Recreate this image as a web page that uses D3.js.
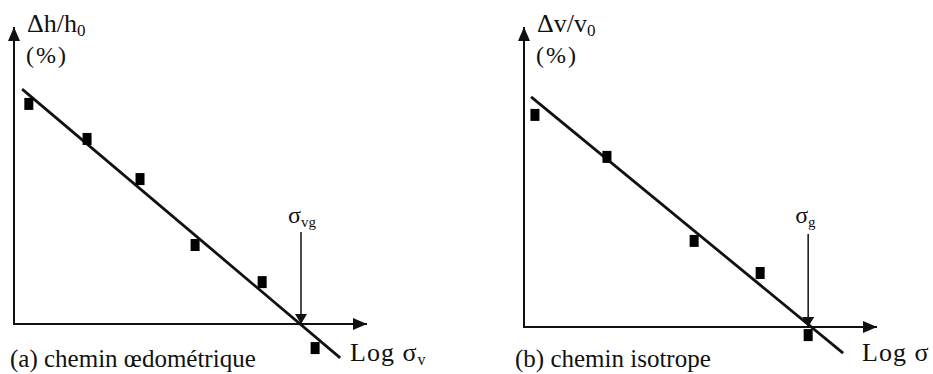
<!DOCTYPE html>
<html lang="fr">
<head>
  <meta charset="UTF-8">
  <title>Chemin oedometrique / isotrope</title>
  <script src="https://d3js.org/d3.v7.min.js"></script>
  <style>
    body { margin: 0; background: #fff; }
    svg text { font-family: "Liberation Serif", "DejaVu Serif", serif; fill: #111; }
  </style>
</head>
<body>
<div id="chart"></div>
<script>
const width = 933, height = 374;

// panel (a) : chemin oedometrique  (x = log sigma, y = dh/h0 %)
const aPointsX = [0.42, 2.07, 3.57, 5.13, 7.03, 8.53];
const aPointsY = [7.41, 6.23, 4.88, 2.66, 1.41, -0.81];
const aFitX = [0.23, 9.24];
const aFitY = [7.91, -1.14];
const aSigma = 8.13;

// panel (b) : chemin isotrope  (x = log sigma, y = dv/v0 %)
const bPointsX = [0.31, 2.35, 4.82, 6.69, 8.05];
const bPointsY = [7.07, 5.67, 2.87, 1.80, -0.27];
const bFitX = [0.20, 9.04];
const bFitY = [7.67, -0.87];
const bSigma = 8.05;

const svg = d3.select("#chart").append("svg")
  .attr("width", width)
  .attr("height", height)
  .attr("font-family", "'Liberation Serif', 'DejaVu Serif', serif");

const defs = svg.append("defs");
defs.append("marker")
  .attr("id", "head")
  .attr("viewBox", "0 0 14 12")
  .attr("refX", 14).attr("refY", 6)
  .attr("markerWidth", 14).attr("markerHeight", 12)
  .attr("markerUnits", "userSpaceOnUse")
  .attr("orient", "auto")
  .append("path").attr("d", "M0,0L14,6L0,12Z").attr("fill", "#111");
defs.append("marker")
  .attr("id", "head2")
  .attr("viewBox", "0 0 10 12")
  .attr("refX", 10).attr("refY", 6)
  .attr("markerWidth", 10).attr("markerHeight", 12)
  .attr("markerUnits", "userSpaceOnUse")
  .attr("orient", "auto")
  .append("path").attr("d", "M0,0L10,6L0,12Z").attr("fill", "#111");

function panel(opt) {
  const x = d3.scaleLinear().domain([0, 10]).range([opt.x0, opt.x1]);
  const y = d3.scaleLinear().domain([0, 10]).range([opt.y0, opt.y1]);
  const g = svg.append("g");

  // axes with arrows
  g.append("line")
    .attr("x1", x(0)).attr("y1", y(0) + 1)
    .attr("x2", x(0)).attr("y2", y(10))
    .attr("stroke", "#111").attr("stroke-width", 2)
    .attr("marker-end", "url(#head)");
  g.append("line")
    .attr("x1", x(0)).attr("y1", y(0))
    .attr("x2", x(10)).attr("y2", y(0))
    .attr("stroke", "#111").attr("stroke-width", 2)
    .attr("marker-end", "url(#head)");

  // fitted line
  const fit = d3.line().x(d => x(d[0])).y(d => y(d[1]));
  g.append("path")
    .datum(d3.zip(opt.fitX, opt.fitY))
    .attr("d", fit)
    .attr("fill", "none")
    .attr("stroke", "#111")
    .attr("stroke-width", 2.8);

  // measured points
  g.selectAll("rect.pt")
    .data(d3.zip(opt.px, opt.py))
    .join("rect")
    .attr("class", "pt")
    .attr("x", d => x(d[0]) - 4.5)
    .attr("y", d => y(d[1]) - 6)
    .attr("width", 9)
    .attr("height", 12)
    .attr("fill", "#000");

  // sigma marker arrow
  g.append("line")
    .attr("x1", x(opt.sigma)).attr("y1", y(3.1))
    .attr("x2", x(opt.sigma)).attr("y2", y(0))
    .attr("stroke", "#111").attr("stroke-width", 1.5)
    .attr("marker-end", "url(#head2)");

  const sl = g.append("text")
    .attr("x", x(opt.sigma) - 13)
    .attr("y", 223)
    .attr("font-size", 24);
  sl.append("tspan").text("σ");
  sl.append("tspan").attr("dy", 4).attr("font-size", 15).text(opt.sigmaSub);

  // y label
  const yl = g.append("text")
    .attr("x", x(0) + 13).attr("y", 32)
    .attr("font-size", 26);
  yl.append("tspan").text(opt.yName);
  yl.append("tspan").attr("dy", 4).attr("font-size", 17).text("0");
  g.append("text")
    .attr("x", x(0) + 12).attr("y", 63)
    .attr("font-size", 24)
    .attr("letter-spacing", 2)
    .text("(%)");

  // x label
  const xl = g.append("text")
    .attr("x", opt.xLabelX).attr("y", 361)
    .attr("font-size", 26)
    .attr("letter-spacing", 1);
  xl.append("tspan").text("Log σ");
  if (opt.xSub) xl.append("tspan").attr("dy", 4).attr("font-size", 16).text(opt.xSub);

  // caption
  g.append("text")
    .attr("x", opt.capX).attr("y", 367)
    .attr("font-size", 25)
    .text(opt.caption);
}

panel({
  x0: 14, x1: 367, y0: 324, y1: 27,
  px: aPointsX, py: aPointsY, fitX: aFitX, fitY: aFitY,
  sigma: aSigma, sigmaSub: "vg",
  yName: "Δh/h", xLabelX: 350, xSub: "v",
  capX: 10, caption: "(a) chemin œdométrique"
});

panel({
  x0: 524, x1: 877, y0: 327, y1: 27,
  px: bPointsX, py: bPointsY, fitX: bFitX, fitY: bFitY,
  sigma: bSigma, sigmaSub: "g",
  yName: "Δv/v", xLabelX: 862, xSub: null,
  capX: 515, caption: "(b) chemin isotrope"
});
</script>
</body>
</html>
